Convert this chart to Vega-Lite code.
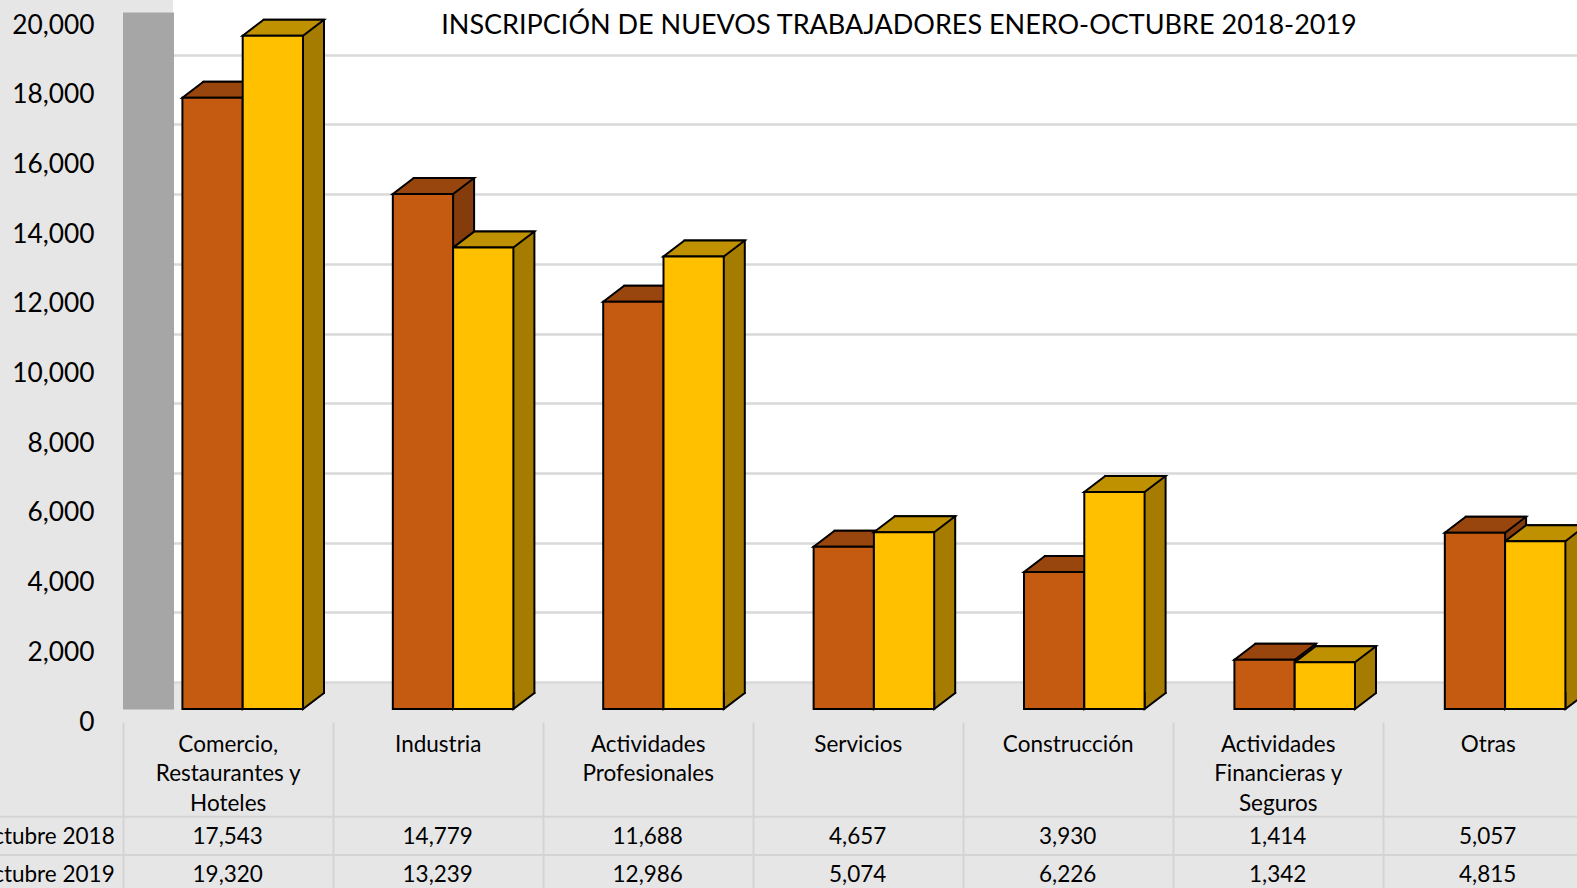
{
  "$schema": "https://vega.github.io/schema/vega-lite/v6.json",
  "width": 1404,
  "height": 682,
  "autosize": {"type": "none"},
  "padding": {"left": 173, "top": 0, "right": 0, "bottom": 206},
  "background": "#E7E6E6",
  "config": {"view": {"fill": "#FFFFFF", "stroke": null}, "font": "Lato", "text": {"font": "Lato"}},
  "title": {
    "text": "INSCRIPCIÓN DE NUEVOS TRABAJADORES ENERO-OCTUBRE 2018-2019",
    "anchor": "middle", "orient": "top", "offset": 0, "dx": 24, "dy": 61,
    "baseline": "alphabetic", "font": "Lato", "fontSize": 27, "fontWeight": "normal", "color": "#000000"
  },
  "datasets": {
    "main": [
      {"cat": "Comercio, Restaurantes y Hoteles", "periodo": "Enero-Octubre 2018", "value": 17543},
      {"cat": "Industria", "periodo": "Enero-Octubre 2018", "value": 14779},
      {"cat": "Actividades Profesionales", "periodo": "Enero-Octubre 2018", "value": 11688},
      {"cat": "Servicios", "periodo": "Enero-Octubre 2018", "value": 4657},
      {"cat": "Construcción", "periodo": "Enero-Octubre 2018", "value": 3930},
      {"cat": "Actividades Financieras y Seguros", "periodo": "Enero-Octubre 2018", "value": 1414},
      {"cat": "Otras", "periodo": "Enero-Octubre 2018", "value": 5057},
      {"cat": "Comercio, Restaurantes y Hoteles", "periodo": "Enero-Octubre 2019", "value": 19320},
      {"cat": "Industria", "periodo": "Enero-Octubre 2019", "value": 13239},
      {"cat": "Actividades Profesionales", "periodo": "Enero-Octubre 2019", "value": 12986},
      {"cat": "Servicios", "periodo": "Enero-Octubre 2019", "value": 5074},
      {"cat": "Construcción", "periodo": "Enero-Octubre 2019", "value": 6226},
      {"cat": "Actividades Financieras y Seguros", "periodo": "Enero-Octubre 2019", "value": 1342},
      {"cat": "Otras", "periodo": "Enero-Octubre 2019", "value": 4815}
    ]
  },
  "data": {"name": "main"},
  "layer": [
    {
      "encoding": {
        "x": {
          "field": "cat", "type": "nominal",
          "scale": {"domain": ["Comercio, Restaurantes y Hoteles", "Industria", "Actividades Profesionales", "Servicios", "Construcción", "Actividades Financieras y Seguros", "Otras"], "range": [-35.5, 1437.3], "paddingInner": 0, "paddingOuter": 0},
          "axis": null
        },
        "y": {
          "field": "value", "type": "quantitative",
          "scale": {"domain": [0, 20000], "range": [709, 12], "nice": false, "zero": true},
          "axis": {
            "title": null,
            "values": [0, 2000, 4000, 6000, 8000, 10000, 12000, 14000, 16000, 18000, 20000],
            "format": ",d", "grid": true, "gridColor": "#D9D9D9", "gridWidth": 2.5,
            "ticks": false, "tickSize": 0, "tickOffset": -27, "labelOffset": 40, "labelPadding": 54,
            "labelFontSize": 26.3, "labelFont": "Lato", "labelColor": "#000000", "labelBaseline": "middle",
            "labelOverlap": false, "domain": true, "domainColor": "#A6A6A6", "domainWidth": 51, "domainCap": "butt",
            "offset": 25
          }
        }
      },
      "layer": [
        {
          "transform": [{"filter": "datum.periodo == 'Enero-Octubre 2018'"}],
          "mark": {"type": "bar", "width": 60.3, "xOffset": -9.15, "yOffset": -16, "y2Offset": -16, "stroke": "#000000", "strokeWidth": 2, "fill": "#843C0C"}
        },
        {
          "transform": [{"filter": "datum.periodo == 'Enero-Octubre 2019'"}],
          "mark": {"type": "bar", "width": 60.3, "xOffset": 51.15, "yOffset": -16, "y2Offset": -16, "stroke": "#000000", "strokeWidth": 2, "fill": "#A67C00"}
        },
        {
          "mark": {"type": "point", "shape": "M1.279,-0.425L1.279,-0.4L0.754,0L0.754,-0.425", "size": 6400, "filled": true, "opacity": 1, "stroke": "#000000", "strokeWidth": 2},
          "encoding": {
            "xOffset": {"field": "periodo", "type": "nominal", "scale": {"domain": ["Enero-Octubre 2018", "Enero-Octubre 2019"], "paddingInner": 0, "paddingOuter": 0.745}},
            "y": {
              "datum": 0, "type": "quantitative",
              "axis": {
                "title": null,
                "values": [0, 2000, 4000, 6000, 8000, 10000, 12000, 14000, 16000, 18000, 20000],
                "format": ",d", "grid": true, "gridColor": "#D9D9D9", "gridWidth": 2.5,
                "ticks": false, "tickSize": 0, "tickOffset": -27, "labelOffset": 40, "labelPadding": 54,
                "labelFontSize": 26.3, "labelFont": "Lato", "labelColor": "#000000", "labelBaseline": "middle",
                "labelOverlap": false, "domain": true, "domainColor": "#A6A6A6", "domainWidth": 51, "domainCap": "butt",
                "offset": 25
              }
            },
            "fill": {"condition": {"test": "datum.periodo == 'Enero-Octubre 2018'", "value": "#843C0C"}, "value": "#A67C00"}
          }
        },
        {
          "mark": {"type": "point", "shape": "M-0.754,0L0.754,0L1.279,-0.4L-0.229,-0.4Z", "size": 6400, "filled": true, "opacity": 1, "stroke": "#000000", "strokeWidth": 2},
          "encoding": {
            "xOffset": {"field": "periodo", "type": "nominal"},
            "fill": {"condition": {"test": "datum.periodo == 'Enero-Octubre 2018'", "value": "#98460E"}, "value": "#BF9000"}
          }
        },
        {
          "mark": {"type": "bar", "stroke": "#000000", "strokeWidth": 2},
          "encoding": {
            "xOffset": {"field": "periodo", "type": "nominal"},
            "fill": {"condition": {"test": "datum.periodo == 'Enero-Octubre 2018'", "value": "#C55A11"}, "value": "#FFC000"}
          }
        }
      ]
    },
    {
      "layer": [
        {
          "mark": {"type": "text", "fontSize": 22.5, "font": "Lato", "color": "#000000", "baseline": "middle", "dy": 1},
          "encoding": {
            "x": {
              "field": "cat", "type": "nominal",
              "scale": {"domain": ["Comercio, Restaurantes y Hoteles", "Industria", "Actividades Profesionales", "Servicios", "Construcción", "Actividades Financieras y Seguros", "Otras"], "range": [-50.3, 1419.7], "paddingInner": 0, "paddingOuter": 0},
              "axis": {
                "title": null, "orient": "bottom", "offset": 40, "domain": false, "grid": false,
                "ticks": true, "tickBand": "extent", "tickSize": 180, "tickColor": "#D4D4D4", "tickWidth": 2,
                "labelPadding": -169, "labelBaseline": "top", "labelFontSize": 22.5, "labelFont": "Lato",
                "labelColor": "#000000", "labelLineHeight": 29.5, "labelOverlap": false, "labelLimit": 300, "labelAngle": 0,
                "labelExpr": "datum.value == 'Comercio, Restaurantes y Hoteles' ? ['Comercio,', 'Restaurantes y', 'Hoteles'] : datum.value == 'Actividades Profesionales' ? ['Actividades', 'Profesionales'] : datum.value == 'Actividades Financieras y Seguros' ? ['Actividades', 'Financieras y', 'Seguros'] : datum.value"
              }
            },
            "y": {
              "field": "periodo", "type": "nominal",
              "scale": {"domain": ["Enero-Octubre 2018", "Enero-Octubre 2019"], "range": [816.7, 893.3], "paddingInner": 0, "paddingOuter": 0},
              "axis": null
            },
            "text": {"field": "value", "type": "quantitative", "format": ",d"}
          }
        },
        {
          "transform": [{"aggregate": [{"op": "count", "as": "n"}], "groupby": ["periodo"]}],
          "mark": {"type": "rule", "color": "#D4D4D4", "strokeWidth": 2, "xOffset": -240, "x2Offset": 200},
          "encoding": {
            "x": {"datum": "Comercio, Restaurantes y Hoteles", "type": "nominal"},
            "x2": {"datum": "Otras"},
            "y": {"field": "periodo", "type": "nominal", "bandPosition": 0}
          }
        },
        {
          "transform": [{"aggregate": [{"op": "count", "as": "n"}], "groupby": ["periodo"]}],
          "mark": {"type": "text", "align": "right", "baseline": "middle", "dx": -8, "dy": 1, "fontSize": 22.5, "font": "Lato", "color": "#000000"},
          "encoding": {
            "x": {"datum": "Comercio, Restaurantes y Hoteles", "type": "nominal", "bandPosition": 0},
            "y": {"field": "periodo", "type": "nominal"},
            "text": {"field": "periodo", "type": "nominal"}
          }
        }
      ]
    }
  ],
  "resolve": {"scale": {"x": "independent", "y": "independent"}, "axis": {"x": "independent", "y": "independent"}}
}
